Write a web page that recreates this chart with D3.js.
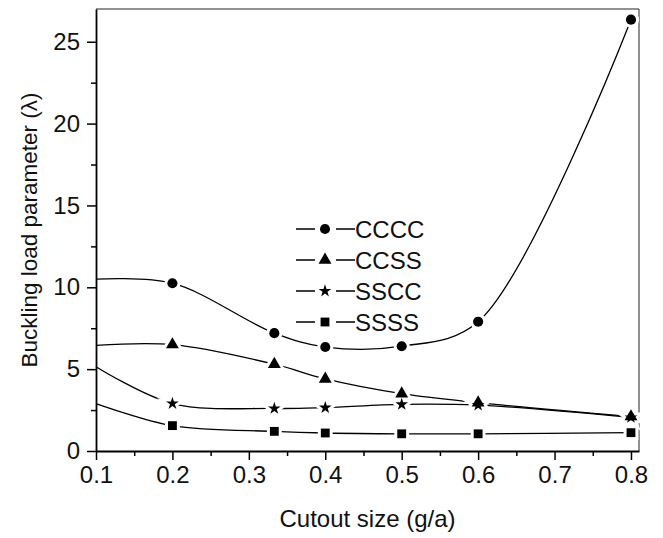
<!DOCTYPE html>
<html>
<head>
<meta charset="utf-8">
<script src="https://cdn.jsdelivr.net/npm/d3@7"></script>
<style>
	body { margin: 0; background: #fff; overflow: hidden; }
	svg { display: block; font-family: "Liberation Sans", Arial, sans-serif; }
</style>
</head>
<body>
<div id="chart"></div>
<script>
// ----------------------------------
// DATA
// ----------------------------------
// first x (0.1) is only where the fitted curve starts, no symbol is drawn there
const cutoutSizes = [0.1, 0.2, 1 / 3, 0.4, 0.5, 0.6, 0.8];
const cccc = [10.5, 10.25, 7.2, 6.35, 6.4, 7.9, 26.35];
const ccss = [6.45, 6.5, 5.3, 4.4, 3.5, 2.95, 2.1];
const sscc = [5.15, 2.9, 2.6, 2.65, 2.85, 2.8, 2.05];
const ssss = [2.9, 1.55, 1.2, 1.1, 1.05, 1.05, 1.12];

const seriesNames = ["CCCC", "CCSS", "SSCC", "SSSS"];
const xTicks = [0.1, 0.2, 0.3, 0.4, 0.5, 0.6, 0.7, 0.8];
const yTicks = [0, 5, 10, 15, 20, 25];

const series = [
	{name: seriesNames[0], values: cccc, symbol: d3.symbolCircle, size: 80},
	{name: seriesNames[1], values: ccss, symbol: d3.symbolTriangle, size: 72},
	{name: seriesNames[2], values: sscc, symbol: d3.symbolStar, size: 50},
	{name: seriesNames[3], values: ssss, symbol: d3.symbolSquare, size: 78}
];

// ----------------------------------
// SIZES AND SCALES
// ----------------------------------
const width = 663, height = 538;
const margin = {top: 9, right: 24, bottom: 87, left: 96};
const innerWidth = width - margin.left - margin.right,
	innerHeight = height - margin.top - margin.bottom;

const xScale = d3.scaleLinear()
	.domain([0.1, 0.8105])
	.range([0, innerWidth]);

const yScale = d3.scaleLinear()
	.domain([0, 27])
	.range([innerHeight, 0]);

const svg = d3.select("#chart")
	.append("svg")
	.attr("width", width)
	.attr("height", height);

const chartInner = svg.append("g")
	.attr("transform", `translate(${margin.left},${margin.top})`);

// frame (top and right)
chartInner.append("path")
	.attr("d", `M0,0H${innerWidth}V${innerHeight}`)
	.style("fill", "none")
	.style("stroke", "#222")
	.style("stroke-width", 1);

// ----------------------------------
// AXES
// ----------------------------------
const xMinor = d3.range(0.15, 0.8, 0.1);
const yMinor = d3.range(2.5, 27, 5);

// minor ticks: no labels, so drop the empty text nodes
chartInner.append("g")
	.attr("transform", `translate(0,${innerHeight})`)
	.call(d3.axisBottom(xScale).tickValues(xMinor).tickSize(5).tickFormat(""))
	.call(g => g.select(".domain").remove())
	.call(g => g.selectAll("text").remove());

const xAxis = chartInner.append("g")
	.attr("transform", `translate(0,${innerHeight})`)
	.call(d3.axisBottom(xScale).tickValues(xTicks).tickSize(9).tickPadding(6).tickFormat(d3.format(".1f")).tickSizeOuter(0));

chartInner.append("g")
	.call(d3.axisLeft(yScale).tickValues(yMinor).tickSize(5).tickFormat(""))
	.call(g => g.select(".domain").remove())
	.call(g => g.selectAll("text").remove());

const yAxis = chartInner.append("g")
	.call(d3.axisLeft(yScale).tickValues(yTicks).tickSize(9).tickPadding(7).tickSizeOuter(0));

svg.selectAll(".tick line").style("stroke", "#000").style("stroke-width", 1.5);
svg.selectAll(".domain").style("stroke", "#000").style("stroke-width", 1.8);
[xAxis, yAxis].forEach(a => a.selectAll("text")
	.style("font-size", "24px")
	.style("fill", "#111"));

// axis titles
svg.append("text")
	.attr("x", margin.left + innerWidth / 2)
	.attr("y", 527)
	.attr("text-anchor", "middle")
	.style("font-size", "24px")
	.style("fill", "#111")
	.text("Cutout size (g/a)");

svg.append("text")
	.attr("transform", `translate(37,${margin.top + innerHeight / 2}) rotate(-90)`)
	.attr("text-anchor", "middle")
	.style("font-size", "22.5px")
	.style("fill", "#111")
	.text("Buckling load parameter (\u03bb)");

// ----------------------------------
// CURVES AND SYMBOLS
// ----------------------------------
const line = d3.line()
	.x((d, i) => xScale(cutoutSizes[i]))
	.y(d => yScale(d))
	.curve(d3.curveCatmullRom.alpha(0.5));

series.forEach(s => {
	chartInner.append("path")
		.datum(s.values)
		.attr("d", line)
		.style("fill", "none")
		.style("stroke", "#000")
		.style("stroke-width", 1.3);
});

// white halo first so the curve breaks around each symbol, like the original plot
series.forEach(s => {
	const pts = s.values.slice(1).map((v, i) => [cutoutSizes[i + 1], v]);
	chartInner.selectAll(null)
		.data(pts)
		.enter()
		.append("path")
		.attr("transform", d => `translate(${xScale(d[0])},${yScale(d[1])})`)
		.attr("d", d3.symbol(s.symbol, s.size))
		.style("fill", "#fff")
		.style("stroke", "#fff")
		.style("stroke-width", 6);
});

series.forEach(s => {
	const pts = s.values.slice(1).map((v, i) => [cutoutSizes[i + 1], v]);
	chartInner.selectAll(null)
		.data(pts)
		.enter()
		.append("path")
		.attr("transform", d => `translate(${xScale(d[0])},${yScale(d[1])})`)
		.attr("d", d3.symbol(s.symbol, s.size))
		.style("fill", "#000");
});

// ----------------------------------
// LEGEND
// ----------------------------------
const legend = svg.append("g")
	.attr("transform", "translate(296,229)");

series.forEach((s, i) => {
	const row = legend.append("g")
		.attr("transform", `translate(0,${i * 31})`);
	row.append("path")
		.attr("d", "M0,0H19M40,0H59")
		.style("stroke", "#000")
		.style("stroke-width", 1.3);
	row.append("path")
		.attr("transform", "translate(29,0)")
		.attr("d", d3.symbol(s.symbol, s.size))
		.style("fill", "#000");
	row.append("text")
		.attr("x", 59)
		.attr("dy", "0.36em")
		.style("font-size", "24px")
		.style("fill", "#111")
		.text(s.name);
});
</script>
</body>
</html>
